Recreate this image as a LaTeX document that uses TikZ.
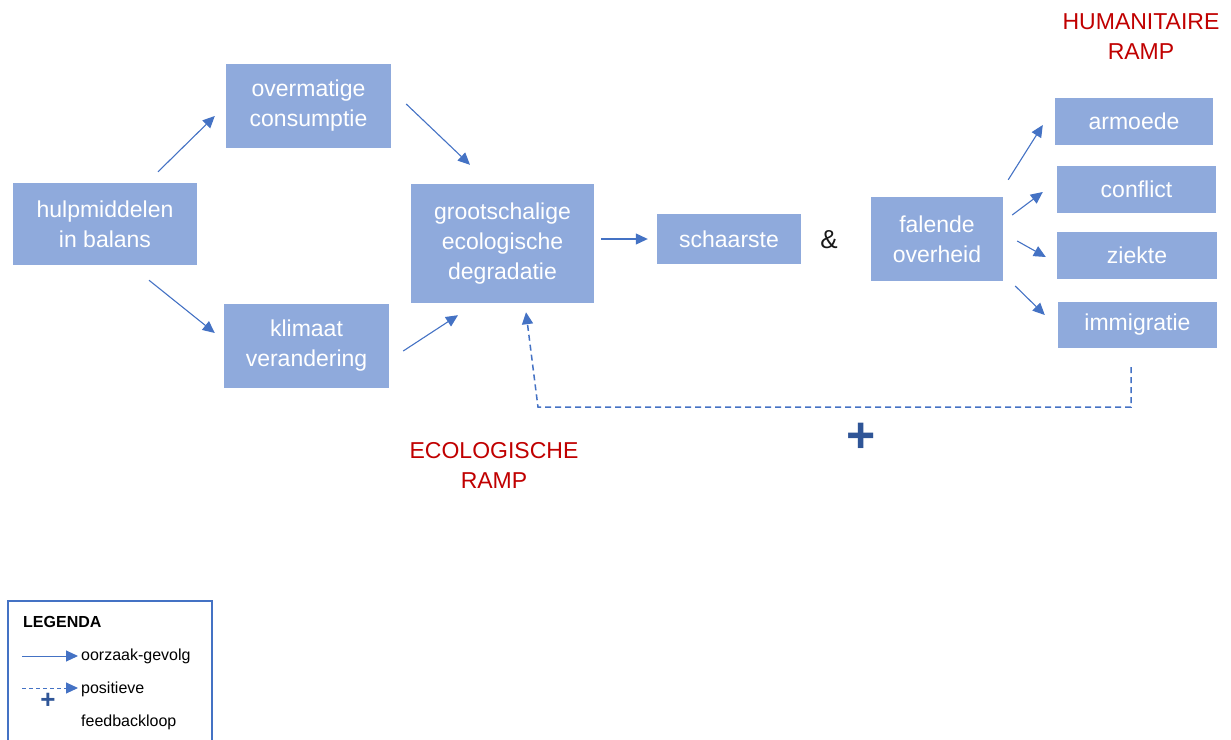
\documentclass[tikz,border=0pt]{standalone}
\usepackage{fontspec}
\setmainfont{Liberation Sans}
\usetikzlibrary{arrows.meta,calc}
\definecolor{boxblue}{HTML}{8FAADC}
\definecolor{arrowblue}{HTML}{4472C4}
\definecolor{rampred}{HTML}{C00000}
\definecolor{plusblue}{HTML}{2F5597}

\begin{document}
\begin{tikzpicture}[x=1pt,y=-1pt,
  box/.style={fill=boxblue,text=white,inner sep=0pt,align=center,font=\fontsize{23}{30}\selectfont},
  cause/.style={draw=arrowblue,line width=1.1pt,-{Triangle[length=12pt,width=11pt]}},
  feedback/.style={cause,line width=1.5pt,dash pattern=on 6pt off 4pt},
  ramp/.style={text=rampred,align=center,font=\fontsize{23}{30}\selectfont},
  legtext/.style={anchor=west,inner sep=0pt,font=\fontsize{16}{18}\selectfont}]
\useasboundingbox (0,0) rectangle (1231,739);
% oorzaken
\node[box,minimum width=184pt,minimum height=82pt] (hulp) at (105,224) {hulpmiddelen\\in balans};
\node[box,minimum width=165pt,minimum height=84pt] (over) at (308.5,106) {overmatige\\consumptie};
\node[box,minimum width=165pt,minimum height=84pt] (klim) at (306.5,346) {klimaat\\verandering};
\node[box,minimum width=183pt,minimum height=119pt] (groot) at (502.5,243.5) {grootschalige\\ecologische\\degradatie};
\node[box,minimum width=144pt,minimum height=50pt] (schaar) at (729,239) {schaarste};
\node[font=\fontsize{26}{30}\selectfont,text=black!90] (en) at (829,240) {\&};
\node[box,minimum width=132pt,minimum height=84pt] (falende) at (937,239) {falende\\overheid};
% gevolgen
\node[box,minimum width=158pt,minimum height=47pt] (armoede) at (1134,121.5) {armoede};
\node[box,minimum width=159pt,minimum height=47pt] (conflict) at (1136.5,189.5) {conflict};
\node[box,minimum width=160pt,minimum height=47pt] (ziekte) at (1137,255.5) {ziekte};
\node[box,minimum width=159pt,minimum height=46pt] (immig) at (1137.5,325) {immigratie};
\node[ramp] (humramp) at (1141,37) {HUMANITAIRE\\RAMP};
\node[ramp] (ecoramp) at (494,465) {ECOLOGISCHE\\RAMP};
% pijlen
\draw[cause] ($(hulp.north)+(53,-11)$) -- ($(over.west)+(-11,10)$);
\draw[cause] ($(hulp.south)+(44,15)$) -- ($(klim.west)+(-9,-13)$);
\draw[cause] ($(over.east)+(15,-2)$) -- ($(groot.north)+(-32.5,-19)$);
\draw[cause] ($(klim.east)+(14,5)$) -- ($(groot.south)+(-44.5,12)$);
\draw[cause] ($(groot.east)+(7,-4.5)$) -- ($(schaar.west)+(-9,0)$);
\draw[cause] ($(falende.north east)+(5,-17)$) -- ($(armoede.west)+(-12,3.5)$);
\draw[cause] ($(falende.east)+(9,-24)$) -- ($(conflict.west)+(-14,2.5)$);
\draw[cause] ($(falende.east)+(14,2)$) -- ($(ziekte.west)+(-11,1.5)$);
\draw[cause] ($(falende.east)+(12,47)$) -- ($(immig.west)+(-13,-10)$);
\draw[feedback] ($(immig.south)+(-6.5,19)$) -- ++(0,40) -- ($(groot.south)+(35.5,104)$) -- ($(groot.south)+(23.5,9)$);
\node[text=plusblue,font=\fontsize{50}{50}\selectfont\bfseries] (plus) at (861,438) {+};
% legenda
\draw[arrowblue,line width=1.2pt] (8,601) rectangle (212,760);
\node[legtext,font=\fontsize{16}{18}\selectfont\bfseries] (legenda) at (23,622) {LEGENDA};
\coordinate (l1a) at (22,656);
\coordinate (l1b) at (78,656);
\draw[cause,line width=1pt] (l1a) -- (l1b);
\node[legtext] (oorzaak) at (81,656) {oorzaak-gevolg};
\coordinate (l2a) at (22,688);
\coordinate (l2b) at (78,688);
\draw[feedback,line width=1pt,dash pattern=on 4pt off 3pt] (l2a) -- (l2b);
\node[legtext] (positieve) at (81,689) {positieve};
\node[text=plusblue,font=\fontsize{26}{26}\selectfont\bfseries] (lplus) at (48,701) {+};
\node[legtext] (feedback) at (81,722) {feedbackloop};
\end{tikzpicture}
\end{document}
